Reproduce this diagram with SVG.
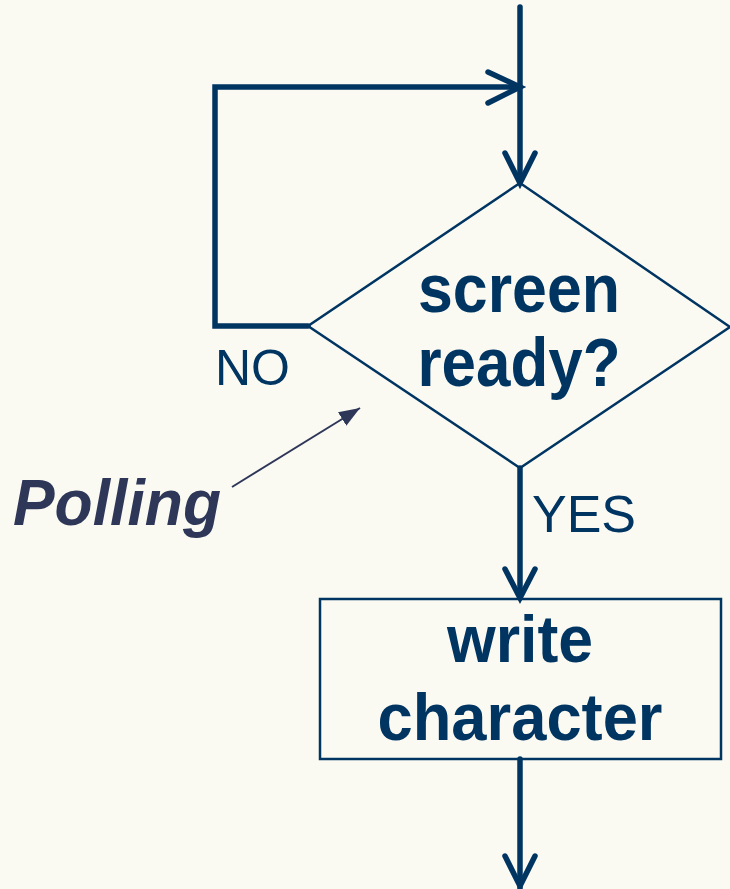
<svg xmlns="http://www.w3.org/2000/svg" width="730" height="889" viewBox="0 0 730 889">
<defs>
<style>
.flow{fill:none;stroke:#003562;stroke-width:5.5;stroke-linecap:round;stroke-linejoin:miter}
.shape{fill:none;stroke:#003562;stroke-width:2.5}
.big{font-family:"Liberation Sans",Arial,sans-serif;font-weight:bold;fill:#003562;text-anchor:middle}
.lbl{font-family:"Liberation Sans",Arial,sans-serif;fill:#003562}
.poll{font-family:"Liberation Sans",Arial,sans-serif;font-weight:bold;font-style:italic;fill:#2f3759}
</style>
<marker id="tri" viewBox="0 0 10 10" refX="10" refY="5" markerWidth="21" markerHeight="16" preserveAspectRatio="none" markerUnits="userSpaceOnUse" orient="auto">
<path d="M0,0 L10,5 L0,10 z" fill="#2f3759"/>
</marker>
</defs>
<rect width="730" height="889" fill="#fafaf3"/>
<g id="connectors">
<path class="flow" d="M520,7 L520,181"/>
<path class="flow" d="M308,326 L215,326 L215,87 L520,87"/>
<path class="flow" d="M488,72 L520,87 L488,103"/>
<path class="flow" d="M505,153 L520,183 L535,153"/>
<path class="flow" d="M520,468 L520,597"/>
<path class="flow" d="M505,569 L520,598 L535,569"/>
<path class="flow" d="M520,759 L520,889"/>
<path class="flow" d="M505,856 L520,886 L535,856"/>
<text class="lbl" x="215" y="385" font-size="50">NO</text>
<text class="lbl" x="532" y="532" font-size="52">YES</text>
</g>
<g id="decision">
<polygon class="shape" points="520,183 730,327 520,468 308,326"/>
<text class="big" x="519" y="312" font-size="68" textLength="202" lengthAdjust="spacingAndGlyphs">screen</text>
<text class="big" x="519" y="386" font-size="68" textLength="203" lengthAdjust="spacingAndGlyphs">ready?</text>
</g>
<g id="process">
<rect class="shape" x="320" y="599" width="401" height="160"/>
<text class="big" x="520" y="662" font-size="66" textLength="146" lengthAdjust="spacingAndGlyphs">write</text>
<text class="big" x="520" y="740" font-size="66" textLength="285" lengthAdjust="spacingAndGlyphs">character</text>
</g>
<g id="polling">
<text class="poll" x="13" y="525" font-size="64" textLength="208" lengthAdjust="spacingAndGlyphs">Polling</text>
<line x1="232" y1="487" x2="360" y2="408" stroke="#2f3759" stroke-width="2" marker-end="url(#tri)"/>
</g>
</svg>
